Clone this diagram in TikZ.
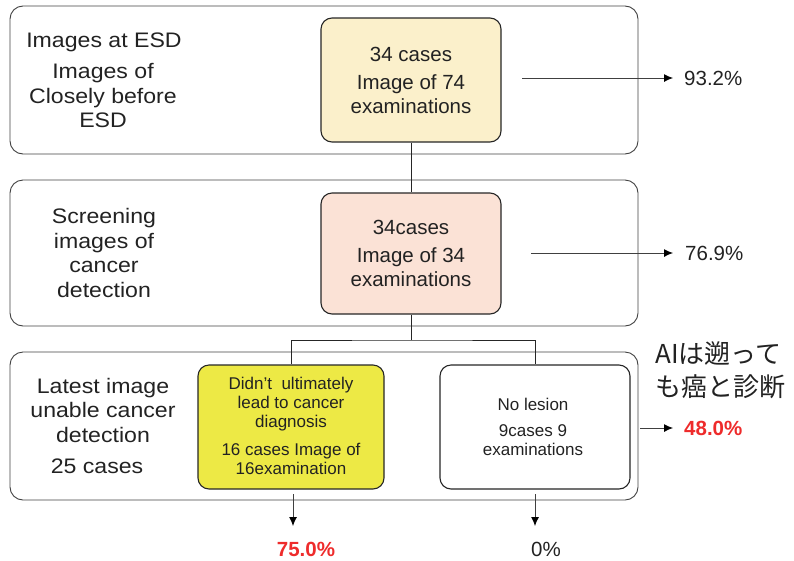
\documentclass[tikz,border=0pt]{standalone}
\usepackage{fontspec}
\setmainfont{Liberation Sans}
\newfontfamily\widefont[FakeStretch=1.1]{Liberation Sans}
\newfontfamily\cjk{Noto Sans CJK JP}
\usetikzlibrary{arrows.meta}
\definecolor{boxA}{HTML}{FBF0CB}
\definecolor{boxB}{HTML}{FBE2D6}
\definecolor{boxY}{HTML}{EDE945}
\definecolor{redtxt}{HTML}{EE2B2B}
\definecolor{txt}{HTML}{222222}
\tikzset{
  outerbox/.style={draw=black!75, line width=0.9pt, rounded corners=13pt, inner sep=0pt},
  innerbox/.style={draw=black!85, line width=1.1pt, rounded corners=11pt, inner sep=0pt},
  big/.style={font=\fontsize{20.5}{24.5}\selectfont, text=txt, align=center, inner sep=0pt},
  leftt/.style={font=\widefont\fontsize{21}{24.5}\selectfont, text=txt, align=center, inner sep=0pt},
  small/.style={font=\fontsize{17}{19}\selectfont, text=txt, align=center, inner sep=0pt},
  pct/.style={font=\fontsize{20.5}{24}\selectfont, text=txt, inner sep=0pt, anchor=west},
  redpct/.style={font=\fontsize{20.5}{24}\selectfont\bfseries, text=redtxt, inner sep=0pt},
  conn/.style={line width=0.9pt, draw=black!85},
  arr/.style={line width=0.9pt, draw=black!75, -{Latex[length=9pt,width=8pt,color=black]}},
}
\begin{document}
\begin{tikzpicture}[x=1pt,y=-1pt]
\useasboundingbox (0,0) rectangle (794,560);
% outer boxes
\node[outerbox, minimum width=628pt, minimum height=148pt] (o1) at (324,80) {};
\node[outerbox, minimum width=628pt, minimum height=146pt] (o2) at (324,253) {};
\node[outerbox, minimum width=628pt, minimum height=148pt] (o3) at (324,426) {};
% inner boxes
\node[innerbox, fill=boxA, minimum width=180pt, minimum height=124pt] (b1) at (411,80) {};
\node[innerbox, fill=boxB, minimum width=180pt, minimum height=121pt] (b2) at (411,253.5) {};
\node[innerbox, fill=boxY, minimum width=186pt, minimum height=124pt] (by) at (291,427) {};
\node[innerbox, fill=white, minimum width=190pt, minimum height=124pt] (bw) at (535,427) {};
% left texts
\node[leftt] (l1a) at (104,42) {Images at ESD};
\node[leftt] (l1b) at (103,96) {Images of\\Closely before\\ESD};
\node[leftt] (l2) at (104,253) {Screening\\images of\\cancer\\detection};
\node[leftt] (l3a) at (103,410) {Latest image\\unable cancer\\detection};
\node[leftt] (l3b) at (97,466) {25 cases};
% box texts
\node[big] (t1a) at (411,54) {34 cases};
\node[big] (t1b) at (411,94) {Image of 74\\examinations};
\node[big] (t2a) at (411,227) {34cases};
\node[big] (t2b) at (411,267) {Image of 34\\examinations};
\node[small] (tya) at (291,404) {Didn’t\ \ ultimately\\lead to cancer\\diagnosis};
\node[small] (tyb) at (291,459) {16 cases Image of\\16examination};
\node[small] (twa) at (533,404) {No lesion};
\node[small] (twb) at (533,440) {9cases 9\\examinations};
% percentages
\node[pct] (p1) at (684,78) {93.2\%};
\node[pct] (p2) at (685,253) {76.9\%};
\node[redpct, anchor=west] (p3) at (684,428) {48.0\%};
\node[redpct] (p4) at (306,549) {75.0\%};
\node[pct, anchor=center] (p5) at (546,549) {0\%};
\node[font=\cjk\fontsize{26}{33}\selectfont, text=txt, align=left, inner sep=0pt, anchor=west] (jp) at (655,370) {AIは遡って\\も癌と診断};
% connectors
\draw[conn] (b1.south) -- (b2.north);
\coordinate (split) at (411,340);
\draw[conn] (b2.south) -- (split);
\draw[conn] (by.north) |- (split) -| (bw.north);
% arrows
\coordinate (a1) at (522,78);
\coordinate (a2) at (531,253);
\coordinate (a3) at (640,428);
\draw[arr] (a1) -- ([xshift=-11pt]p1.west);
\draw[arr] (a2) -- ([xshift=-12pt]p2.west);
\draw[arr] (a3) -- ([xshift=-11pt]p3.west);
\coordinate (d1s) at (293,494);
\coordinate (d1e) at (293,526);
\coordinate (d2s) at (535,494);
\coordinate (d2e) at (535,526);
\draw[arr] (d1s) -- (d1e);
\draw[arr] (d2s) -- (d2e);
\end{tikzpicture}
\end{document}
